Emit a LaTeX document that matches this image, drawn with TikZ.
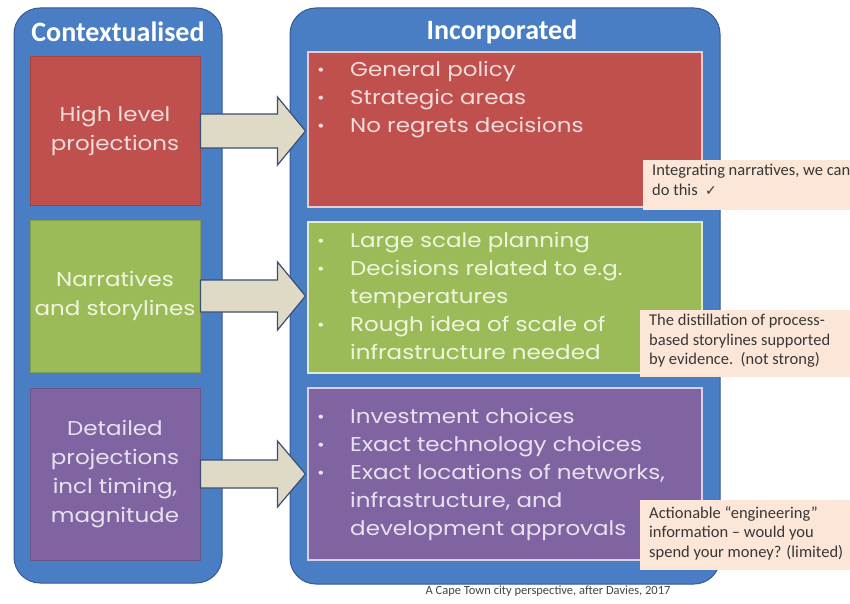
\documentclass[tikz,border=0pt]{standalone}
\usepackage{fontspec}
\setmainfont{Carlito}
\newfontfamily\gothic[FakeStretch=1.15]{Poppins}
\newfontfamily\symbolfont{DejaVu Sans}
\usetikzlibrary{calc}

\definecolor{panelblue}{RGB}{74,126,196}
\definecolor{paneledge}{RGB}{52,90,150}
\definecolor{boxred}{RGB}{192,80,77}
\definecolor{boxgreen}{RGB}{155,187,89}
\definecolor{boxpurple}{RGB}{128,100,162}
\definecolor{txtred}{RGB}{242,220,219}
\definecolor{txtgreen}{RGB}{240,246,222}
\definecolor{txtpurple}{RGB}{232,226,240}
\definecolor{arrowfill}{RGB}{222,218,198}
\definecolor{arrowedge}{RGB}{58,78,118}
\definecolor{notefill}{RGB}{252,230,216}
\definecolor{notetext}{RGB}{55,55,55}
\definecolor{foottext}{RGB}{70,70,70}

\tikzset{
  panel/.style={fill=panelblue, draw=paneledge, line width=1pt, rounded corners=26pt},
  header/.style={text=white, font=\bfseries\fontsize{28}{30}\selectfont},
  leftbox/.style={draw=#1!85!black, fill=#1, line width=1pt,
    minimum width=170pt, inner sep=0pt},
  lefttext/.style={text=#1, align=center, font=\gothic\fontsize{20}{29}\selectfont},
  rightbox/.style={draw=white!70!#1, fill=#1, line width=1.2pt,
    minimum width=394pt, inner sep=0pt},
  bullets/.style={text=#1, anchor=base west, inner sep=0pt,
    font=\gothic\fontsize{20}{28}\selectfont},
  blockarrow/.style={fill=arrowfill, draw=arrowedge, line width=1.2pt, line join=miter},
  note/.style={fill=notefill, draw=none},
  notetxt/.style={text=notetext, anchor=north west, align=left, inner sep=0pt,
    font=\fontsize{16.5}{19.5}\selectfont},
}

\newcommand{\bl}{\raisebox{0.05em}{\fontsize{16}{16}\selectfont\textbullet}}

\begin{document}
\begin{tikzpicture}[x=1pt, y=-1pt]
  \clip (0,0) rectangle (850,604);
  \fill[white] (0,0) rectangle (850,604);

  % two column panels
  \draw[panel] (14,8) rectangle (222,583);
  \draw[panel] (290,8) rectangle (720,584);
  \node[header] (hleft) at (118,32) {Contextualised};
  \node[header] (hright) at (502,32) {Incorporated};

  % left column boxes
  \node[leftbox=boxred, minimum height=148pt] (lred) at (115,131) {};
  \node[leftbox=boxgreen, minimum height=152pt] (lgreen) at (115,296) {};
  \node[leftbox=boxpurple, minimum height=172pt] (lpurple) at (115,474) {};
  \node[lefttext=txtred] (tred) at (lred) {High level\\projections};
  \node[lefttext=txtgreen] (tgreen) at (lgreen) {Narratives\\and storylines};
  \node[lefttext=txtpurple] (tpurple) at (lpurple) {Detailed\\projections\\incl timing,\\magnitude};

  % right column boxes
  \node[rightbox=boxred, minimum height=155pt] (rred) at (505,129.5) {};
  \node[rightbox=boxgreen, minimum height=151pt] (rgreen) at (505,297.5) {};
  \node[rightbox=boxpurple, minimum height=172pt] (rpurple) at (505,474) {};

  \node[bullets=txtred] (bred) at (317,77) {%
    \begin{tabular}[t]{@{}p{33pt}@{}l@{}}
      \bl & General policy\\
      \bl & Strategic areas\\
      \bl & No regrets decisions
    \end{tabular}};
  \node[bullets=txtgreen] (bgreen) at (317,247) {%
    \begin{tabular}[t]{@{}p{33pt}@{}l@{}}
      \bl & Large scale planning\\
      \bl & Decisions related to e.g.\\
          & temperatures\\
      \bl & Rough idea of scale of\\
          & infrastructure needed
    \end{tabular}};
  \node[bullets=txtpurple] (bpurple) at (317,423) {%
    \begin{tabular}[t]{@{}p{33pt}@{}l@{}}
      \bl & Investment choices\\
      \bl & Exact technology choices\\
      \bl & Exact locations of networks,\\
          & infrastructure, and\\
          & development approvals
    \end{tabular}};

  % block arrows from left to right
  \draw[blockarrow] (lred.east) ++(0,-17) -- ++(77,0) -- ++(0,-17) -- ++(28,34)
    -- ++(-28,34) -- ++(0,-17) -- ++(-77,0) -- cycle;
  \draw[blockarrow] (lgreen.east) ++(0,-16) -- ++(77,0) -- ++(0,-18) -- ++(28,34)
    -- ++(-28,34) -- ++(0,-18) -- ++(-77,0) -- cycle;
  \draw[blockarrow] (lpurple.east) ++(0,-14) -- ++(77,0) -- ++(0,-19) -- ++(28,33)
    -- ++(-28,33) -- ++(0,-19) -- ++(-77,0) -- cycle;

  % comment notes
  \node[note, anchor=north west, minimum width=230pt, minimum height=50pt] (n1) at (643,160) {};
  \node[notetxt] (n1t) at (652,164) {Integrating narratives, we can\\do this \ {\symbolfont\fontsize{14}{14}\selectfont ✓}};
  \node[note, anchor=north west, minimum width=230pt, minimum height=67pt] (n2) at (640,310) {};
  \node[notetxt] (n2t) at (649,314) {The distillation of process-\\based storylines supported\\by evidence.\ \ (not strong)};
  \node[note, anchor=north west, minimum width=230pt, minimum height=70pt] (n3) at (640,500) {};
  \node[notetxt] (n3t) at (649,506) {Actionable “engineering”\\information – would you\\spend your money? (limited)};

  % source line
  \node[text=foottext, font=\fontsize{12.5}{14}\selectfont] (src) at (548,591)
    {A Cape Town city perspective, after Davies, 2017};
\end{tikzpicture}
\end{document}
